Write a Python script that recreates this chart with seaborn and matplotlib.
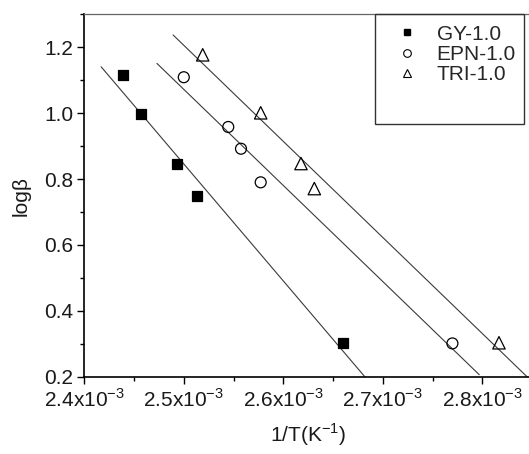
import numpy as np
import pandas as pd
import matplotlib
matplotlib.use("Agg")
import matplotlib.pyplot as plt
import seaborn as sns
from matplotlib.lines import Line2D
from matplotlib.patches import Rectangle
from matplotlib.ticker import MultipleLocator

# ---- data ----
series_names = ["GY-1.0", "EPN-1.0", "TRI-1.0"]
gy_x = [2.439e-3, 2.457e-3, 2.4935e-3, 2.513e-3, 2.660e-3]
gy_y = [1.115, 0.998, 0.845, 0.748, 0.301]
epn_x = [2.500e-3, 2.5447e-3, 2.5575e-3, 2.5773e-3, 2.770e-3]
epn_y = [1.109, 0.958, 0.892, 0.790, 0.301]
tri_x = [2.519e-3, 2.5773e-3, 2.6178e-3, 2.6312e-3, 2.8168e-3]
tri_y = [1.177, 1.001, 0.847, 0.771, 0.303]
x_ticks = [2.4e-3, 2.5e-3, 2.6e-3, 2.7e-3, 2.8e-3]
x_tick_labels = ["2.4x10$^{\\mathregular{-3}}$", "2.5x10$^{\\mathregular{-3}}$",
                 "2.6x10$^{\\mathregular{-3}}$", "2.7x10$^{\\mathregular{-3}}$",
                 "2.8x10$^{\\mathregular{-3}}$"]
y_ticks = [0.2, 0.4, 0.6, 0.8, 1.0, 1.2]
y_tick_labels = ["0.2", "0.4", "0.6", "0.8", "1.0", "1.2"]

sns.set_theme(style="ticks")
plt.rcParams["font.family"] = ["Liberation Sans", "DejaVu Sans"]
plt.rcParams["mathtext.fontset"] = "custom"
plt.rcParams["mathtext.rm"] = "Liberation Sans"

fig = plt.figure(figsize=(5.29, 4.54), dpi=100)
ax = fig.add_axes([84.3 / 529, 77.3 / 454, (532.0 - 84.3) / 529, (376.7 - 14.3) / 454])

xs_all = [gy_x, epn_x, tri_x]
ys_all = [gy_y, epn_y, tri_y]
markers = ["s", "o", "^"]
sizes = [55, 62, 80]
faces = ["black", "none", "none"]

# fitted lines (linear regression, extended by 10% of data span)
for xs, ys in zip(xs_all, ys_all):
    xa = np.array(xs); ya = np.array(ys)
    k, b = np.polyfit(xa, ya, 1)
    span = xa.max() - xa.min()
    xl = np.array([xa.min() - 0.1 * span, xa.max() + 0.1 * span])
    fit = pd.DataFrame({"x": xl, "y": k * xl + b})
    sns.lineplot(data=fit, x="x", y="y", ax=ax, color="#3a3a3a", linewidth=0.8,
                 estimator=None, sort=False, zorder=2)

for name, xs, ys, m, s, fc in zip(series_names, xs_all, ys_all, markers, sizes, faces):
    df = pd.DataFrame({"x": xs, "y": ys})
    sns.scatterplot(data=df, x="x", y="y", ax=ax, marker=m, s=s,
                    facecolor=fc, edgecolor="black", linewidth=0.9, zorder=3)

ax.set_xlim(2.4e-3, 2.85e-3)
ax.set_ylim(0.2, 1.3)
ax.set_xticks(x_ticks)
ax.set_xticklabels(x_tick_labels)
ax.set_yticks(y_ticks)
ax.set_yticklabels(y_tick_labels)
ax.xaxis.set_minor_locator(MultipleLocator(0.05e-3))
ax.yaxis.set_minor_locator(MultipleLocator(0.1))
ax.tick_params(which="major", direction="out", length=5, width=1.0, labelsize=15,
               color="black", labelcolor="#1a1a1a", pad=3)
ax.tick_params(which="minor", direction="out", length=3, width=1.0, color="black")
ax.tick_params(top=False, right=False, which="both")

for sp in ["left", "bottom"]:
    ax.spines[sp].set_color("black")
    ax.spines[sp].set_linewidth(1.2)
ax.spines["top"].set_color("#666666")
ax.spines["top"].set_linewidth(0.9)
ax.spines["right"].set_visible(False)

ax.set_xlabel("1/T(K$^{\\mathregular{-1}}$)", fontsize=15, color="#1a1a1a", labelpad=8)
ax.set_ylabel("logβ", fontsize=15, color="#1a1a1a", labelpad=10)

# legend
handles = [
    Line2D([], [], linestyle="none", marker="s", markersize=5, markerfacecolor="black",
           markeredgecolor="black"),
    Line2D([], [], linestyle="none", marker="o", markersize=5.5, markerfacecolor="none",
           markeredgecolor="black", markeredgewidth=0.8),
    Line2D([], [], linestyle="none", marker="^", markersize=6, markerfacecolor="none",
           markeredgecolor="black", markeredgewidth=0.8),
]
ax.legend(handles, series_names, loc="upper left", bbox_to_anchor=(398.0 / 529, 1 - 24.5 / 454),
          bbox_transform=fig.transFigure, frameon=False, fontsize=15, handlelength=0.9,
          handletextpad=0.95, labelspacing=0.07, borderpad=0, borderaxespad=0)
fig.patches.append(Rectangle((375 / 529, 1 - 124 / 454), (524.3 - 375) / 529, (124 - 14.3) / 454,
                             transform=fig.transFigure, fill=False, edgecolor="#333333",
                             linewidth=1.0, zorder=5))

fig.savefig("out.png", dpi=100)
